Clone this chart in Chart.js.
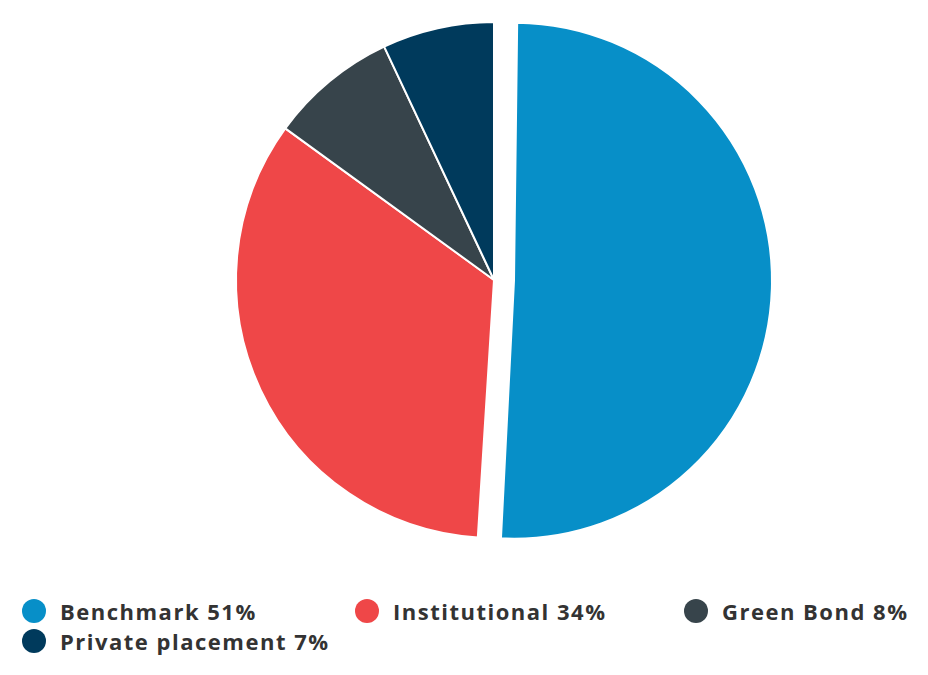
<!DOCTYPE html>
<html>
<head>
<meta charset="utf-8">
<script src="https://cdn.jsdelivr.net/npm/chart.js@4/dist/chart.umd.min.js"></script>
<style>
  body { margin: 0; background: #fff; width: 928px; height: 675px; overflow: hidden; }
  #wrap { position: absolute; left: 0; top: 0; width: 928px; height: 560px; }
  #legend { position: absolute; left: 22px; top: 596px; width: 906px; }
  .item { position: absolute; display: flex; align-items: center; height: 30px;
          font-family: "Open Sans", sans-serif; font-weight: bold; font-size: 22px;
          letter-spacing: 1.5px; color: #333; white-space: nowrap; }
  .dot { width: 24px; height: 24px; border-radius: 50%; margin-right: 14px; flex: none; }
</style>
</head>
<body>
<div id="wrap"><canvas id="pieChart"></canvas></div>
<div id="legend"></div>
<script>
const labels = ["Benchmark", "Institutional", "Green Bond", "Private placement"];
const shares = [51, 34, 8, 7];
const colors = ["#078fc8", "#ef4748", "#37444b", "#003a5c"];
const offsets = [80, 0, 0, 0]; // chart.js moves the slice by offset / 4

// chart.js also grows an offset slice's radius; keep it the same size as the rest
const keepRadius = {
  id: "keepRadius",
  afterDatasetsUpdate(chart) {
    const meta = chart.getDatasetMeta(0);
    meta.data.forEach((arc, i) => {
      arc.outerRadius -= offsets[i] / 4;
    });
  }
};

function buildLegend() {
  const legend = document.getElementById("legend");
  const cols = [0, 333, 662];
  labels.forEach((name, i) => {
    const div = document.createElement("div");
    div.className = "item";
    div.style.left = cols[i % 3] + "px";
    div.style.top = Math.floor(i / 3) * 30 + "px";
    div.innerHTML = `<span class="dot" style="background:${colors[i]}"></span>${name} ${shares[i]}%`;
    legend.appendChild(div);
  });
}

document.addEventListener("DOMContentLoaded", () => {
  const ctx = document.getElementById("pieChart").getContext("2d");
  new Chart(ctx, {
    type: "pie",
    data: {
      labels,
      datasets: [{
        data: shares,
        backgroundColor: colors,
        borderColor: "#ffffff",
        borderWidth: 2,
        offset: offsets
      }]
    },
    options: {
      responsive: true,
      maintainAspectRatio: false,
      animation: false,
      radius: 258,
      layout: { padding: { left: 60, top: 0, bottom: 0 } },
      plugins: {
        legend: { display: false },
        tooltip: { enabled: false }
      }
    },
    plugins: [keepRadius]
  });
  buildLegend();
});
</script>
</body>
</html>
